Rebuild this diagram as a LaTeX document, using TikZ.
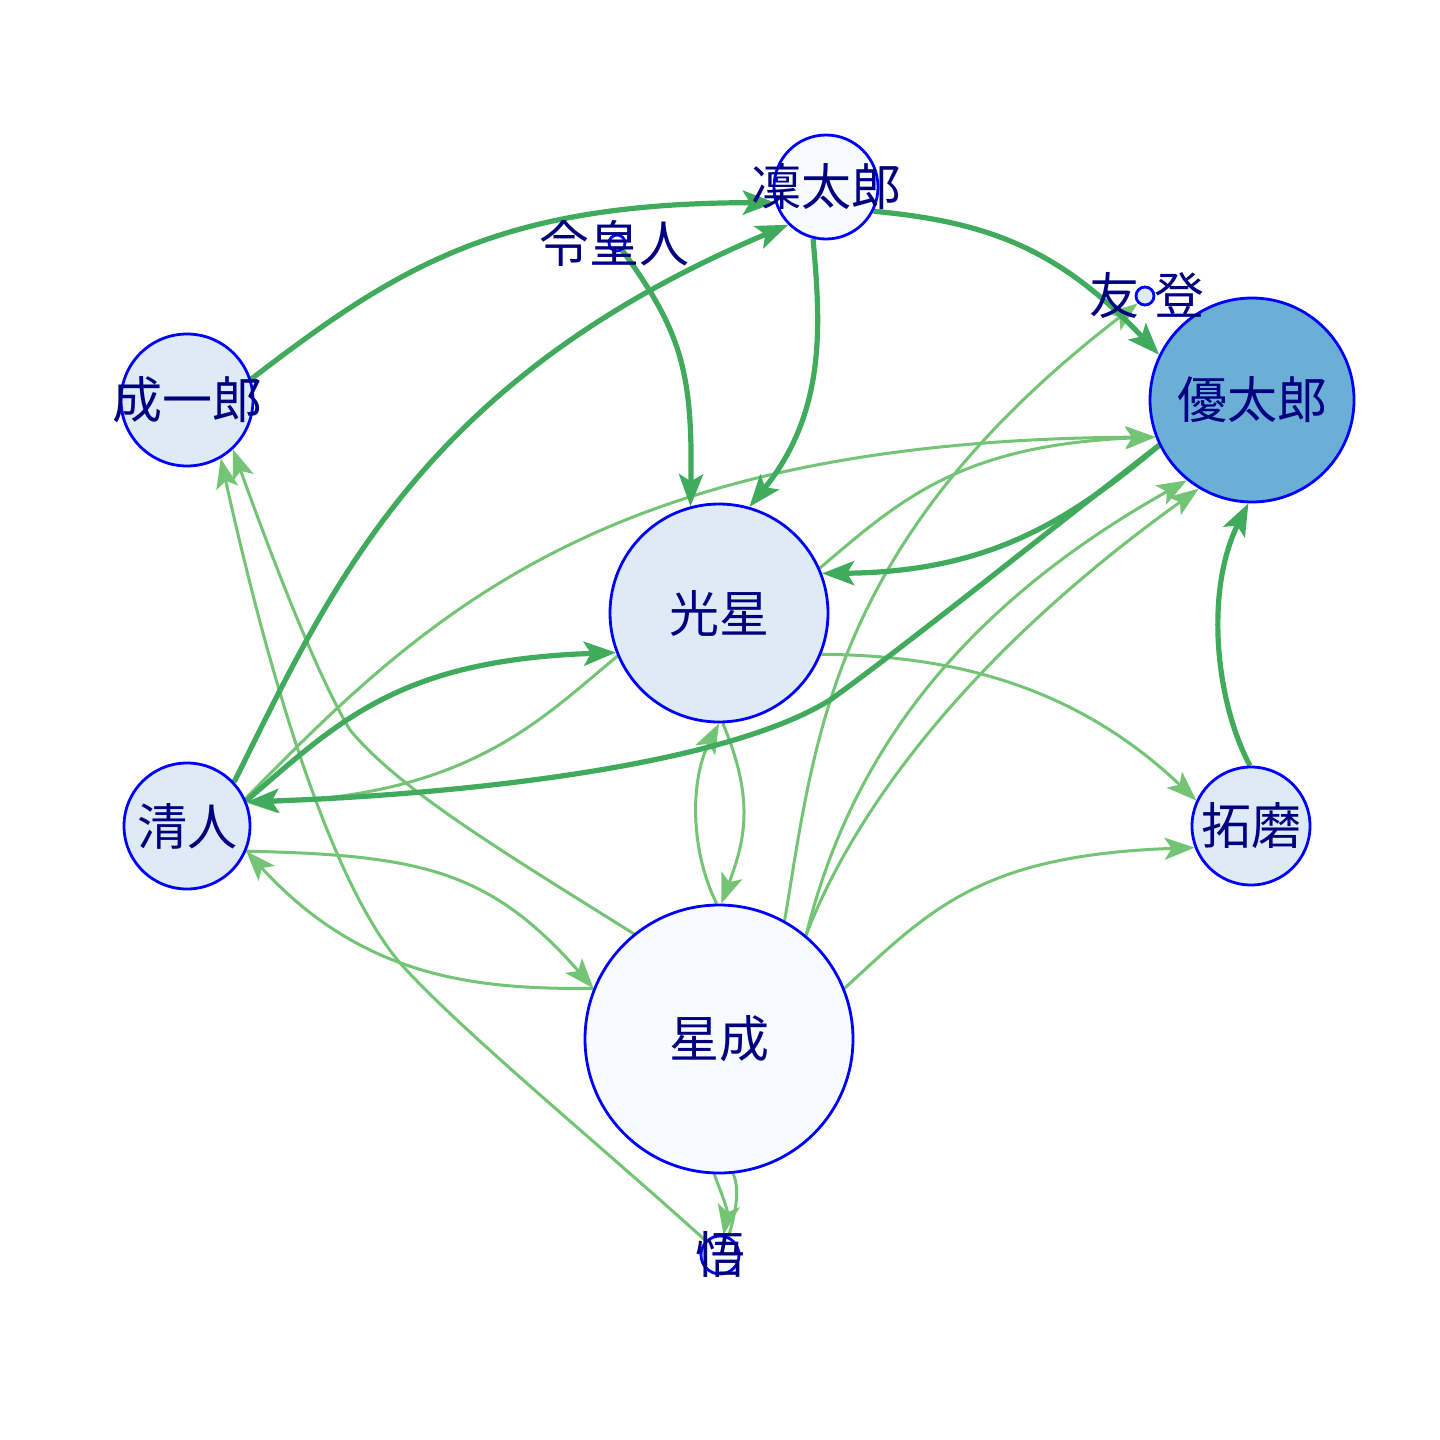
\documentclass[tikz,border=0pt]{standalone}
\usepackage{fontspec}
\newfontfamily\cjk{Noto Sans CJK JP}
\usetikzlibrary{arrows.meta}
\definecolor{dkg}{HTML}{41AB5D}
\definecolor{ltg}{HTML}{74C476}
\definecolor{fa}{HTML}{F7FBFF}
\definecolor{fb}{HTML}{DEEBF7}
\definecolor{fc}{HTML}{6BAED6}
\definecolor{navy}{HTML}{000080}
\pgfdeclarelayer{bg}
\pgfdeclarelayer{edges}
\pgfsetlayers{bg,edges,main}
\tikzset{
  vtx/.style={circle, draw=blue, line width=1.4pt, inner sep=0pt, minimum size=#1},
  lab/.style={font=\cjk\fontsize{25}{25}\selectfont, text=navy, inner sep=0pt},
  dk/.style={draw=dkg, line width=2.6pt, -{Stealth[length=16pt,width=12pt,inset=3.5pt]}},
  lt/.style={draw=ltg, line width=1.5pt, -{Stealth[length=15pt,width=11pt,inset=3.5pt]}},
  ltn/.style={draw=ltg, line width=1.5pt},
}
\begin{document}
\begin{tikzpicture}[x=0.5pt,y=-0.5pt]
\begin{pgfonlayer}{bg}
\fill[white] (0,0) rectangle (1440,1440);
\end{pgfonlayer}
\useasboundingbox (0,0) rectangle (1440,1440);
% nodes
\node[vtx=52pt, fill=fa] (rin) at (826,187) {};
\node[vtx=8pt, fill=fa] (rei) at (617,243) {};
\node[vtx=9pt, fill=fb] (yu) at (1145,296) {};
\node[vtx=102pt, fill=fc] (yuta) at (1252,400) {};
\node[vtx=66pt, fill=fb] (sei) at (187,400) {};
\node[vtx=109pt, fill=fb] (kou) at (719,613) {};
\node[vtx=63pt, fill=fb] (kiyo) at (187,826) {};
\node[vtx=59pt, fill=fb] (taku) at (1251,826) {};
\node[vtx=134pt, fill=fa] (hosh) at (719,1039) {};
\node[vtx=19pt, fill=fa] (sat) at (720,1255) {};
% labels
\node[lab] (rinL) at (826,187) {凜太郎};
\node[lab] (reiL) at (614,243) {令皇人};
\node[lab] (yuL) at (1147,295) {友\hspace{0.3em}登};
\node[lab] (yutaL) at (1252,400) {優太郎};
\node[lab] (seiL) at (187,400) {成一郎};
\node[lab] (kouL) at (719,613) {光星};
\node[lab] (kiyoL) at (187,826) {清人};
\node[lab] (takuL) at (1251,826) {拓磨};
\node[lab] (hoshL) at (719,1039) {星成};
\node[lab] (satL) at (720,1255) {悟};
\begin{pgfonlayer}{edges}
% light edges
\draw[lt] (kiyo.25) .. controls (430,610) and (610,440) .. (yuta.201);
\draw[lt] (kou.203) .. controls (540,720) and (470,795) .. (kiyo.21);
\draw[lt] (kiyo.-23) .. controls (420,855) and (490,870) .. (hosh.158);
\draw[lt] (hosh.158) .. controls (470,990) and (360,975) .. (kiyo.-23);
\draw[lt] (hosh.129) .. controls (500,850) and (400,790) .. (350,730) .. controls (320,680) and (280,580) .. (sei.-47);
\draw[lt] (sat.135) .. controls (600,1145) and (460,1030) .. (400,963) .. controls (330,880) and (270,680) .. (sei.-60);
\draw[lt] (kou.-88) .. controls (755,800) and (745,840) .. (hosh.89);
\draw[lt] (hosh.91) .. controls (690,850) and (690,780) .. (kou.-90);
\draw[lt] (hosh.-92) .. controls (722,1195) and (728,1210) .. (sat.80);
\draw[ltn] (sat.65) .. controls (736,1210) and (740,1190) .. (hosh.-84);
\draw[lt] (hosh.61) .. controls (815,740) and (830,540) .. (yu.225);
\draw[lt] (kou.24) .. controls (900,500) and (960,445) .. (yuta.201);
\draw[lt] (hosh.50) .. controls (840,800) and (920,630) .. (yuta.231);
\draw[lt] (hosh.50) .. controls (850,820) and (960,660) .. (yuta.239);
\draw[lt] (kou.-22) .. controls (960,655) and (1080,690) .. (taku.155);
\draw[lt] (hosh.22) .. controls (930,910) and (980,855) .. (taku.201);
% dark edges
\draw[dk] (sei.18) .. controls (400,265) and (500,203) .. (rin.197);
\draw[dk] (kiyo.43) .. controls (330,590) and (420,380) .. (rin.225);
\draw[dk] (rei) .. controls (680,330) and (693,370) .. (kou.105);
\draw[dk] (rin.256) .. controls (820,320) and (828,410) .. (kou.74);
\draw[dk] (rin.-27) .. controls (990,222) and (1060,250) .. (yuta.154);
\draw[dk] (yuta.206) .. controls (1070,520) and (990,572) .. (kou.21);
\draw[dk] (yuta.206) .. controls (1050,530) and (900,650) .. (830,700) .. controls (720,768) and (450,795) .. (kiyo.22);
\draw[dk] (kiyo.23) .. controls (340,720) and (400,660) .. (kou.201);
\draw[dk] (taku.91) .. controls (1215,700) and (1205,590) .. (yuta.268);
\end{pgfonlayer}
\end{tikzpicture}
\end{document}
